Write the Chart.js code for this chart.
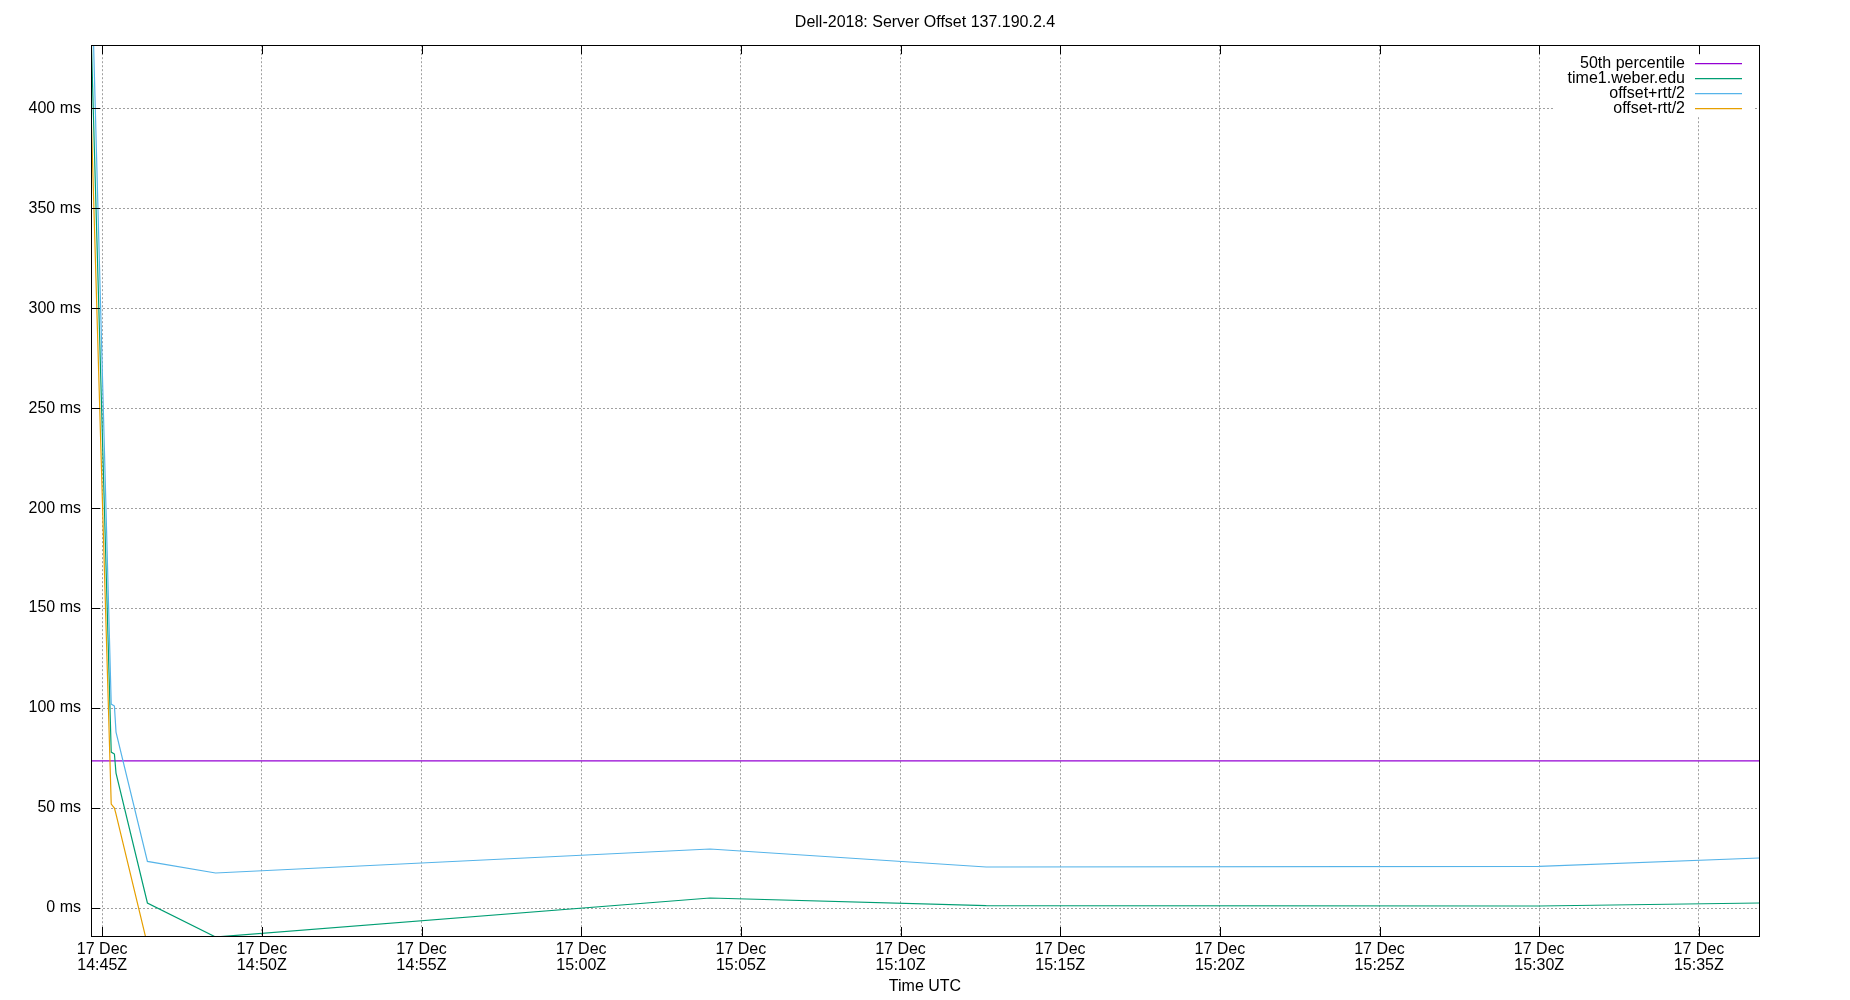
<!DOCTYPE html>
<html>
<head>
<meta charset="utf-8">
<title>Dell-2018: Server Offset 137.190.2.4</title>
<script src="https://cdn.jsdelivr.net/npm/chart.js@4.4.1/dist/chart.umd.min.js"></script>
<style>
  html, body { margin: 0; padding: 0; background: #fff; }
  #wrap { width: 1850px; height: 1000px; }
</style>
</head>
<body>
<div id="wrap"><canvas id="offset-chart" width="1850" height="1000"></canvas></div>
<script>
'use strict';

// sample times (UTC, 17 Dec) and offsets in ms
const times = ['14:44:39', '14:45:17', '14:45:23', '14:45:26', '14:46:25',
               '14:48:33', '15:04:02', '15:12:41', '15:30:00', '15:36:53'];
const offset = [440, 78, 77, 67.5, 2.5, -14.5, 5, 1.2, 1.0, 2.5];
const offsetPlusRtt = [480, 102, 101, 88, 23.3, 17.5, 29.5, 20.5, 20.8, 25];
const offsetMinusRtt = [400, 52, 50, 47, -18.3, -46.5, -19.5, -18.1, -18.8, -20];
const percentile50 = 73.6;

// axis ticks
const xTicks = ['14:45', '14:50', '14:55', '15:00', '15:05', '15:10',
                '15:15', '15:20', '15:25', '15:30', '15:35'];
const tickDay = '17 Dec';
const yTicks = [0, 50, 100, 150, 200, 250, 300, 350, 400];
const yMin = -14;
const yMax = 431.5;

const FONT = {family: '"Liberation Sans", Arial, sans-serif', size: 16, weight: 'normal'};
const GRID_COLOR = '#a0a0a0';

function toSec(t) {
    const parts = t.split(':').map(Number);
    return parts[0] * 3600 + parts[1] * 60 + (parts[2] || 0);
}

function hhmm(sec) {
    const h = Math.floor(sec / 3600);
    const m = Math.floor((sec % 3600) / 60);
    return String(h).padStart(2, '0') + ':' + String(m).padStart(2, '0');
}

const xs = times.map(toSec);
const series = (values) => values.map((v, i) => ({x: xs[i], y: v}));

// gnuplot style key: text right aligned, sample line on the right
const gnuplotKey = {
    id: 'gnuplotKey',
    afterDatasetsDraw(chart) {
        const {ctx, chartArea} = chart;
        ctx.save();
        ctx.fillStyle = '#fff';
        ctx.fillRect(chartArea.right - 206, chartArea.top + 1, 200, 70);
        ctx.font = '16px "Liberation Sans", Arial, sans-serif';
        ctx.textAlign = 'right';
        ctx.textBaseline = 'alphabetic';
        chart.data.datasets.forEach((ds, i) => {
            const y = chartArea.top + 18.5 + i * 15;
            ctx.fillStyle = '#000';
            ctx.fillText(ds.label, chartArea.right - 74, y + 4);
            ctx.strokeStyle = ds.borderColor;
            ctx.lineWidth = 1.2;
            ctx.beginPath();
            ctx.moveTo(chartArea.right - 64, y);
            ctx.lineTo(chartArea.right - 17, y);
            ctx.stroke();
        });
        ctx.restore();
    }
};

// frame and inward tick marks
const gnuplotFrame = {
    id: 'gnuplotFrame',
    afterDraw(chart) {
        const {ctx, chartArea} = chart;
        const {left, right, top, bottom} = chartArea;
        ctx.save();
        ctx.strokeStyle = '#000';
        ctx.lineWidth = 1;
        ctx.strokeRect(Math.round(left) + 0.5, Math.round(top) + 0.5,
                       Math.round(right - left), Math.round(bottom - top));
        ctx.beginPath();
        chart.scales.x.ticks.forEach(t => {
            const px = Math.round(chart.scales.x.getPixelForValue(t.value)) + 0.5;
            ctx.moveTo(px, bottom);
            ctx.lineTo(px, bottom - 9);
            ctx.moveTo(px, top);
            ctx.lineTo(px, top + 9);
        });
        chart.scales.y.ticks.forEach(t => {
            const py = Math.round(chart.scales.y.getPixelForValue(t.value)) + 0.5;
            ctx.moveTo(left, py);
            ctx.lineTo(left + 9, py);
        });
        ctx.stroke();
        ctx.restore();
    }
};

const lineStyle = {
    fill: false,
    pointRadius: 0,
    borderWidth: 1.2,
    tension: 0,
};

const offsetChart = new Chart(document.querySelector('#offset-chart'), {
    type: 'line',
    data: {
        datasets: [
            {label: '50th percentile', ...lineStyle, borderColor: '#9400d3', order: 3,
             data: [{x: xs[0], y: percentile50}, {x: xs[xs.length - 1], y: percentile50}]},
            {label: 'time1.weber.edu', ...lineStyle, borderColor: '#009e73', order: 2,
             data: series(offset)},
            {label: 'offset+rtt/2', ...lineStyle, borderColor: '#56b4e9', order: 1,
             data: series(offsetPlusRtt)},
            {label: 'offset-rtt/2', ...lineStyle, borderColor: '#e69f00', order: 0,
             data: series(offsetMinusRtt)},
        ]
    },
    options: {
        responsive: false,
        animation: false,
        devicePixelRatio: 1,
        layout: {padding: {top: 5, right: 0, bottom: 0, left: 0}},
        plugins: {
            legend: {display: false},
            tooltip: {enabled: false},
            title: {
                display: true,
                text: 'Dell-2018: Server Offset 137.190.2.4',
                color: '#000',
                font: {...FONT, lineHeight: 1.2},
                padding: {top: 8, bottom: 13}
            }
        },
        scales: {
            x: {
                type: 'linear',
                min: xs[0],
                max: xs[xs.length - 1],
                afterBuildTicks: scale => {
                    scale.ticks = xTicks.map(t => ({value: toSec(t)}));
                },
                afterFit: scale => { scale.height = 64; },
                grid: {color: GRID_COLOR, drawTicks: false},
                border: {display: false, dash: [2, 2]},
                ticks: {
                    color: '#000',
                    font: {...FONT, lineHeight: 1},
                    padding: 6,
                    maxRotation: 0,
                    autoSkip: false,
                    callback: value => [tickDay, hhmm(value) + 'Z']
                },
                title: {
                    display: true,
                    text: 'Time UTC',
                    color: '#000',
                    font: {...FONT, lineHeight: 1.2},
                    padding: {top: 0, bottom: 4}
                }
            },
            y: {
                min: yMin,
                max: yMax,
                afterBuildTicks: scale => {
                    scale.ticks = yTicks.map(v => ({value: v}));
                },
                afterFit: scale => { scale.width = 91; },
                grid: {color: GRID_COLOR, drawTicks: false},
                border: {display: false, dash: [2, 2]},
                ticks: {
                    color: '#000',
                    font: FONT,
                    padding: 10,
                    callback: value => value + ' ms'
                }
            },
            // empty right margin, same width as the left axis, so the title centres over the plot
            margin: {
                position: 'right',
                afterFit: scale => { scale.width = 91; },
                grid: {display: false, drawTicks: false},
                border: {display: false},
                ticks: {display: false}
            }
        }
    },
    plugins: [gnuplotKey, gnuplotFrame]
});
</script>
</body>
</html>
